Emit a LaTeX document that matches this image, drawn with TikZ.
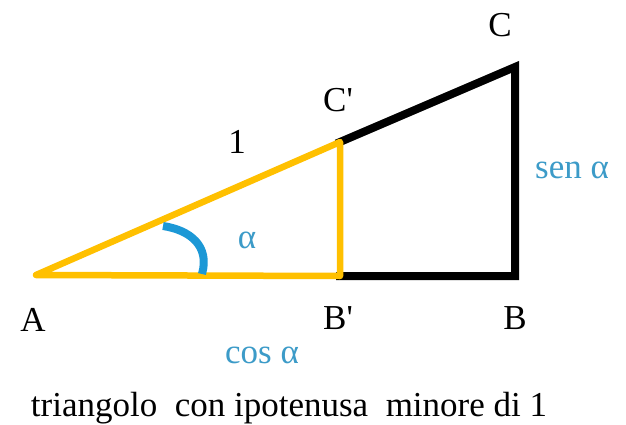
\documentclass[tikz,border=0pt]{standalone}
\usepackage{fontspec}
\setmainfont{Liberation Serif}
\definecolor{yel}{RGB}{255,192,0}
\definecolor{arcblue}{RGB}{28,152,214}
\definecolor{txtblue}{RGB}{60,155,200}
\begin{document}
\begin{tikzpicture}[x=1pt,y=-1pt,
  lbl/.style={font=\fontsize{35}{40}\selectfont, inner sep=0pt},
  bluelbl/.style={lbl, text=txtblue},
  blackside/.style={draw=black, line width=8pt, line join=miter, line cap=rect},
  yelside/.style={draw=yel, line width=6.5pt, line join=round},
  anglearc/.style={draw=arcblue, line width=8pt}]
\useasboundingbox (0,0) rectangle (626,425);
\fill[white] (0,0) rectangle (626,425);
\coordinate (A) at (36,275);
\coordinate (Bp) at (340,276);
\coordinate (Cp) at (340,142);
\coordinate (B) at (515,276);
\coordinate (C) at (515,67);
\coordinate (a1) at (163,226);
\coordinate (a2) at (202,274);
\draw[blackside] (Bp) -- (B) -- (C) -- (Cp);
\draw[yelside] (A) -- (Bp) -- (Cp) -- cycle;
\draw[anglearc] (a1) .. controls (190,230) and (210,246) .. (a2);
\node[lbl] (lA) at (33,320) {A};
\node[lbl] (lBp) at (338,318) {B\textquotesingle};
\node[lbl] (lB) at (515,318) {B};
\node[lbl] (lCp) at (338,100) {C\textquotesingle};
\node[lbl] (lC) at (500,25) {C};
\node[lbl] (l1) at (237,142) {1};
\node[bluelbl] (lal) at (247,240) {α};
\node[bluelbl] (lsen) at (572,170) {sen α};
\node[bluelbl] (lcos) at (262,355) {cos α};
\node[lbl] (cap) at (289,408) {triangolo\ \ con ipotenusa\ \ minore di 1};
\end{tikzpicture}
\end{document}
